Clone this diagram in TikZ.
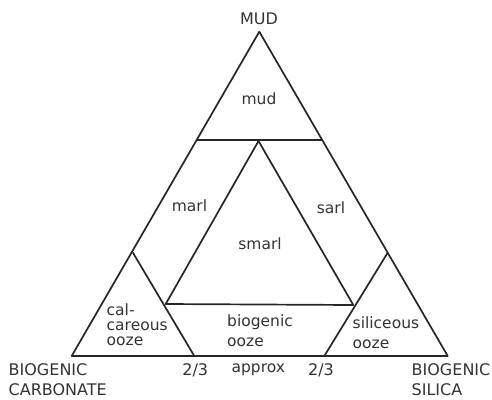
\documentclass[tikz,border=0pt]{standalone}
\usepackage{fontspec}
\setmainfont{DejaVu Sans}
\begin{document}
\begin{tikzpicture}[x=1pt,y=-1pt,
  edge/.style={line width=1.7pt, line join=round, black!85},
  lbl/.style={inner sep=0pt, font=\fontsize{15.5}{18}\selectfont, text=black!80},
  capital/.style={inner sep=0pt, font=\fontsize{16}{20}\selectfont, text=black!80, align=left}]
\useasboundingbox (0,0) rectangle (492,399);
% outer triangle
\coordinate (T) at (259.3,31.7);
\coordinate (L) at (71.7,356);
\coordinate (R) at (447.7,356);
% mud line
\coordinate (ML) at (196.7,140);
\coordinate (MR) at (322.3,140);
% inner triangle
\coordinate (IT) at (258.5,141);
\coordinate (IL) at (165.7,304);
\coordinate (IR) at (353.3,305);
% small triangles
\coordinate (CA) at (132.7,252.3);
\coordinate (CB) at (194.3,356);
\coordinate (SA) at (387.7,252.7);
\coordinate (SB) at (324.3,356);
\draw[edge] (T) -- (L) -- (R) -- cycle;
\draw[edge] (ML) -- (MR);
\draw[edge] (IT) -- (IL) -- (IR) -- cycle;
\draw[edge] (CA) -- (CB);
\draw[edge] (SA) -- (SB);
% labels
\node[capital] (mudcap) at (259,18.5) {MUD};
\node[lbl] (mud) at (259,99) {mud};
\node[lbl] (marl) at (189.5,206) {marl};
\node[lbl] (sarl) at (331,208) {sarl};
\node[lbl] (smarl) at (260,244) {smarl};
\node[lbl, align=left, anchor=west, font=\fontsize{15.5}{14.8}\selectfont] (calc) at (106.5,325) {cal-\\careous\\ooze};
\node[lbl, align=left, anchor=west, font=\fontsize{15.5}{20}\selectfont] (bio) at (227,331) {biogenic\\ooze};
\node[lbl, align=left, anchor=west, font=\fontsize{15.5}{20}\selectfont] (sil) at (352.5,333) {siliceous\\ooze};
\node[capital, anchor=west] (bc) at (8.5,380) {BIOGENIC\\CARBONATE};
\node[capital, anchor=west] (bs) at (411.5,380) {BIOGENIC\\SILICA};
\node[capital] (tl) at (195.3,370) {2/3};
\node[lbl] (ap) at (258.3,370) {approx};
\node[capital] (tr) at (321,370) {2/3};
\end{tikzpicture}
\end{document}
